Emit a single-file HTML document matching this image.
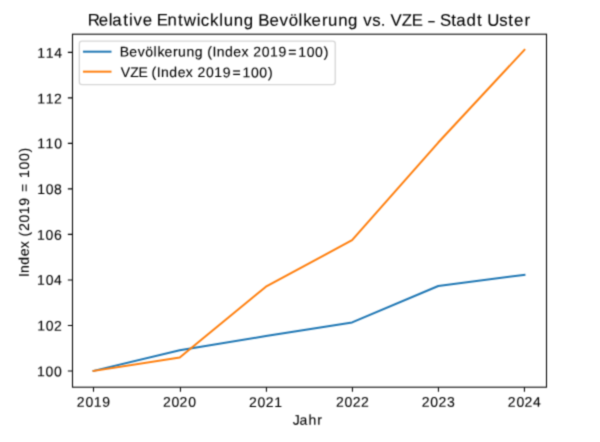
<!DOCTYPE html>
<html><head><meta charset="utf-8"><title>Relative Entwicklung Bevölkerung vs. VZE – Stadt Uster</title>
<style>html,body{margin:0;padding:0;background:#fff;width:600px;height:442px;overflow:hidden}svg{display:block;will-change:transform}text{font-family:"Liberation Sans", sans-serif;fill:#000;stroke:#000;stroke-width:0.1px}</style></head>
<body><svg width="600" height="442" viewBox="0 0 600 442">
<defs><filter id="bl" color-interpolation-filters="sRGB" filterUnits="userSpaceOnUse" x="0" y="0" width="600" height="442"><feConvolveMatrix order="3" kernelMatrix="0.0324 0.1152 0.0324 0.1152 0.4096 0.1152 0.0324 0.1152 0.0324" edgeMode="duplicate"/></filter><clipPath id="c"><rect x="72.5" y="34.2" width="474" height="353"/></clipPath></defs>
<g filter="url(#bl)">
<rect width="600" height="442" fill="#fff"/>
<rect x="72.5" y="34.2" width="474" height="353" fill="none" stroke="#000" stroke-width="1.062"/>
<path d="M93.5 387.2v4.645 M180.44 387.2v4.645 M266.44 387.2v4.645 M352.44 387.2v4.645 M438.44 387.2v4.645 M524.44 387.2v4.645 M72.5 370.92h-4.645 M72.5 325.414h-4.645 M72.5 279.909h-4.645 M72.5 234.403h-4.645 M72.5 188.897h-4.645 M72.5 143.391h-4.645 M72.5 97.886h-4.645 M72.5 52.38h-4.645" stroke="#000" stroke-width="1.062" fill="none"/>
<polyline points="93.562,370.903 179.74,350.183 265.918,336.067 352.096,322.406 438.273,285.977 524.451,274.82" fill="none" stroke="#1f77b4" stroke-width="1.991" stroke-linejoin="round" stroke-linecap="square" clip-path="url(#c)"/>
<polyline points="93.562,370.903 179.74,357.583 265.918,286.66 352.096,240.213 438.273,142.537 524.451,49.87" fill="none" stroke="#ff7f0e" stroke-width="1.991" stroke-linejoin="round" stroke-linecap="square" clip-path="url(#c)"/>
<rect x="79.354" y="41.172" width="255.901" height="43.392" rx="2.654" fill="#fff" fill-opacity="0.8"  stroke="#d6d6d6" stroke-width="1.327"/>
<path d="M83.963 51.68H110.507" stroke="#1f77b4" stroke-width="1.991" stroke-linecap="square"/>
<path d="M83.963 71.663H110.507" stroke="#ff7f0e" stroke-width="1.991" stroke-linecap="square"/>
<text transform="translate(88.116 25.579) matrix(1 0.0005 0 1 0 0)" x="-0.286 10.647 20.531 24.208 35.026 40.846 45.422 54.605 64.34 68.529 79.481 89.854 95.754 108.694 112.745 122.009 131.142 135.554 145.657 155.569 165.514 170.162 181.461 191.509 200.637 210.457 215.061 223.507 233.826 239.953 250.056 259.968 269.913 275.244 284.229 292.721 297.745 302.403 313.752 323.674 334.416 340.016 347.437 351.791 363.036 368.105 378.463 388.957 394.619 399.198 411.204 420.252 425.975 436.293" font-size="16.815">Relative Entwicklung Bevölkerung vs. VZE <tspan textLength="6.414" lengthAdjust="spacingAndGlyphs">–</tspan> Stadt Uster</text>
<text transform="translate(296.099 424.664) matrix(1 0.0005 0 1 0 0)" x="-3.355 3.491 12.382 21.075" font-size="14.013">Jahr</text>
<text transform="translate(28.855 277.054) rotate(-90) matrix(1 0.0005 0 1 0 0)" x="0.011 4.154 12.401 20.845 28.898 36.538 40.451 45.944 54.467 62.744 71.241 79.591 85.073 94.857 99.119 107.658 116.006 124.642" font-size="13.991">Index (2019 = 100)</text>
<text transform="translate(76.71 406.789) matrix(1 0.0005 0 1 0 0)" x="0.147 8.684 16.974 25.484" font-size="14.013">2019</text>
<text transform="translate(162.75 406.803) matrix(1 0.0005 0 1 0 0)" x="0.147 8.684 16.87 25.407" font-size="14.013">2020</text>
<text transform="translate(248.798 406.908) matrix(1 0.0005 0 1 0 0)" x="0.147 8.684 16.87 25.335" font-size="14.013">2021</text>
<text transform="translate(335.769 406.841) matrix(1 0.0005 0 1 0 0)" x="0.147 8.684 16.87 25.232" font-size="14.013">2022</text>
<text transform="translate(421.525 406.805) matrix(1 0.0005 0 1 0 0)" x="0.147 8.684 16.87 25.425" font-size="14.013">2023</text>
<text transform="translate(507.728 406.73) matrix(1 0.0005 0 1 0 0)" x="0.147 8.684 16.87 25.406" font-size="14.013">2024</text>
<text transform="translate(36.821 376.344) matrix(1 0.0005 0 1 0 0)" x="0.251 8.803 17.165" font-size="14.013">100</text>
<text transform="translate(36.941 330.618) matrix(1 0.0005 0 1 0 0)" x="0.251 8.803 16.99" font-size="14.013">102</text>
<text transform="translate(36.849 284.676) matrix(1 0.0005 0 1 0 0)" x="0.251 8.803 17.164" font-size="14.013">104</text>
<text transform="translate(36.808 239.814) matrix(1 0.0005 0 1 0 0)" x="0.251 8.803 17.165" font-size="14.013">106</text>
<text transform="translate(36.889 194.005) matrix(1 0.0005 0 1 0 0)" x="0.251 8.803 17.165" font-size="14.013">108</text>
<text transform="translate(36.906 148.317) matrix(1 0.0005 0 1 0 0)" x="0.251 8.731 17.284" font-size="14.013">110</text>
<text transform="translate(37.027 103.616) matrix(1 0.0005 0 1 0 0)" x="0.251 8.731 17.109" font-size="14.013">112</text>
<text transform="translate(36.966 57.756) matrix(1 0.0005 0 1 0 0)" x="0.251 8.731 17.283" font-size="14.013">114</text>
<text transform="translate(119.907 56.542) matrix(1 0.0005 0 1 0 0)" x="-0.144 9.41 17.744 25.371 33.613 37.47 44.529 53.087 58.214 66.633 74.893 83.3 87.219 92.584 96.734 104.994 113.451 121.517 129.169 133.334 141.87 150.16 158.671 168.344 178.231 186.784 195.145 203.795" font-size="14.013">Bevölkerung (Index 2019=100)</text>
<text transform="translate(120.825 77.077) matrix(1 0.0005 0 1 0 0)" x="-0.137 9.341 17.629 26.681 30.6 35.965 40.115 48.375 56.832 64.898 72.55 76.715 85.251 93.541 102.052 111.724 121.612 130.164 138.526 147.175" font-size="14.013">VZE (Index 2019=100)</text>
</g>
</svg></body></html>
